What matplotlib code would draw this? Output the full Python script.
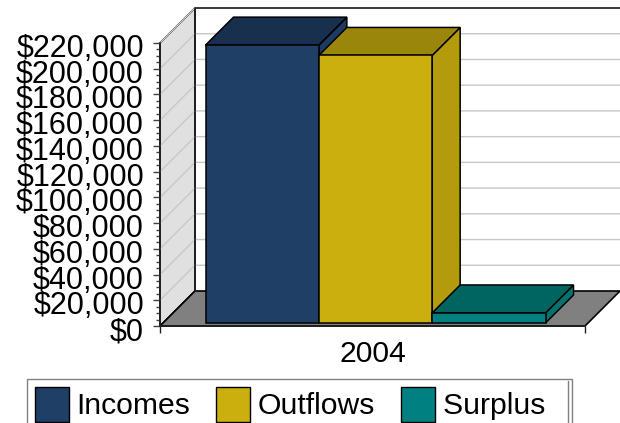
import matplotlib
matplotlib.use("Agg")
import matplotlib.pyplot as plt
from matplotlib.lines import Line2D
from matplotlib.patches import Polygon, Patch
from matplotlib.ticker import FuncFormatter, MultipleLocator
from matplotlib.transforms import ScaledTranslation

plt.rcParams['font.family'] = ['Liberation Sans', 'DejaVu Sans']

category = "2004"
series = ["Incomes", "Outflows", "Surplus"]
values = [216000, 208000, 7800]
front_colors = ["#1F3F66", "#CBAF0E", "#008080"]
top_colors = ["#18304E", "#9A860A", "#006561"]
side_colors = ["#1D3B60", "#B39B0D", "#007370"]
ymax = 220000
major_step = 20000
minor_step = 5000

W, H = 620, 423
L, R, T, B = 160, 585, 43, 326
fig = plt.figure(figsize=(W / 100, H / 100), dpi=100)
ax = fig.add_axes([L / W, 1 - B / H, (R - L) / W, (B - T) / H])
ax.set_xlim(-0.5, 0.5)
ax.set_ylim(0, ymax)
ax.set_facecolor("none")

px_x = 1.0 / (R - L)
px_y = ymax / (B - T)
WALL = 35


def lift(x, y, d):
    return (x + d * px_x, y + d * px_y)


def poly(points, fc, ec="black", lw=1.1, z=2):
    ax.add_patch(Polygon(points, closed=True, facecolor=fc, edgecolor=ec,
                         linewidth=lw, clip_on=False, zorder=z, joinstyle="miter"))


x0, x1 = -0.5, 0.5
# back wall
poly([lift(x0, 0, WALL), lift(x1, 0, WALL), lift(x1, ymax, WALL), lift(x0, ymax, WALL)],
     "white", ec="none", z=1)
# side wall
poly([(x0, 0), lift(x0, 0, WALL), lift(x0, ymax, WALL), (x0, ymax)], "#E0E0E0", lw=1.2, z=1.2)
# floor
poly([(x0, 0), (x1, 0), lift(x1, 0, WALL), lift(x0, 0, WALL)], "#808080", lw=1.2, z=1.3)
# back wall outline
ax.plot(*zip(lift(x0, 0, WALL), lift(x0, ymax, WALL), lift(x1, ymax, WALL)),
        color="#202020", lw=1.2, clip_on=False, zorder=1.4)
# grid lines
for v in range(major_step, ymax + 1, major_step):
    a, b, c = (x0, v), lift(x0, v, WALL), lift(x1, v, WALL)
    ax.plot(*zip(a, b, c), color="#C8C8C8", lw=1.0, clip_on=False, zorder=1.25)

# bars
group = 0.8
bw = group / len(series)
D0, D1 = 3, 31
for i, (val, fc, tc, sc) in enumerate(zip(values, front_colors, top_colors, side_colors)):
    xa = -group / 2 + i * bw
    xb = xa + bw
    poly([lift(xb, 0, D0), lift(xb, 0, D1), lift(xb, val, D1), lift(xb, val, D0)], sc, z=3 + i)
    poly([lift(xa, val, D0), lift(xb, val, D0), lift(xb, val, D1), lift(xa, val, D1)], tc, z=3 + i)
    poly([lift(xa, 0, D0), lift(xb, 0, D0), lift(xb, val, D0), lift(xa, val, D0)], fc, z=3 + i)

# axes
for s in ("top", "right"):
    ax.spines[s].set_visible(False)
for s in ("left", "bottom"):
    ax.spines[s].set_linewidth(1.2)
    ax.spines[s].set_color("#202020")
    ax.spines[s].set_zorder(8)
ax.yaxis.set_major_locator(MultipleLocator(major_step))
ax.yaxis.set_minor_locator(MultipleLocator(minor_step))
ax.yaxis.set_major_formatter(FuncFormatter(lambda v, p: f"${int(v):,}"))
ax.tick_params(axis="y", which="major", length=5, width=1, labelsize=22, pad=6.5, color="#404040")
ax.tick_params(axis="y", which="minor", length=3, width=1, color="#404040")
down = ScaledTranslation(0, -2.5 / 100, fig.dpi_scale_trans)
for lab in ax.get_yticklabels():
    lab.set_transform(lab.get_transform() + down)
ax.set_xticks([-0.5, 0.5])
ax.set_xticklabels(["", ""])
ax.tick_params(axis="x", length=5, width=1, color="#202020")
ax.text(0.5, -0.05, category, transform=ax.transAxes, fontsize=21.7, ha="center", va="top")

# legend (trailing spaces widen the last entry to the reference's frame)
padded = [series[0], series[1], series[2] + "\u00a0\u00a0\u200a"]
handles = [Patch(facecolor=c, edgecolor="black", label=s) for c, s in zip(front_colors, padded)]
leg = fig.legend(handles=handles, ncol=3, loc="upper left",
                 bbox_to_anchor=(27 / W, 1 - 379 / H), fontsize=21.7,
                 fancybox=False, framealpha=1, edgecolor="#808080",
                 handlelength=1.13, handleheight=1.41, handletextpad=0.26,
                 columnspacing=0.86, borderpad=0.25, borderaxespad=0)
fig.add_artist(Line2D([568 / W, 568 / W], [0, 1 - 381 / H], color="#808080", lw=1.0,
                      transform=fig.transFigure, zorder=10))

fig.savefig("out.png", dpi=100)
